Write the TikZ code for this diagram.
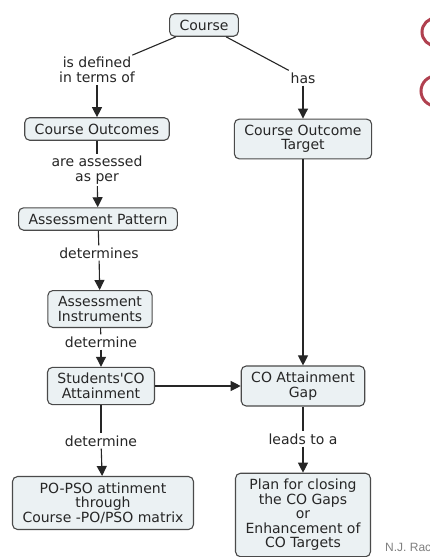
\documentclass[tikz,border=0pt]{standalone}
\usepackage{fontspec}
\setmainfont{DejaVu Sans}
\newfontfamily\creditfont{Liberation Sans}
\usetikzlibrary{arrows.meta}
\definecolor{boxfill}{HTML}{EBF1F3}
\definecolor{boxline}{HTML}{4A4A4A}
\definecolor{inkgrey}{HTML}{262626}
\definecolor{ringred}{HTML}{B0404F}

\begin{document}
\begin{tikzpicture}[x=1pt,y=-1pt,
  concept/.style={draw=boxline,fill=boxfill,rounded corners=5pt,line width=1.1pt,
    inner xsep=10pt,inner ysep=6pt,align=center,text=inkgrey,
    font=\fontsize{14}{14.5}\selectfont},
  linking/.style={inner sep=2pt,align=center,text=inkgrey,
    font=\fontsize{14}{14.5}\selectfont},
  link/.style={line width=1.1pt,draw=black!85},
  arr/.style={link,-{Triangle[width=10pt,length=10pt]}}]
\fill[white] (0,0) rectangle (430,557);
\useasboundingbox (0,0) rectangle (430,557);
%
\node[concept] (course) at (204,25) {Course};
\node[linking] (isdef) at (97,70) {is defined\\in terms of};
\node[linking] (has) at (303,78) {has};
\node[concept] (co) at (97,129) {Course Outcomes};
\node[concept] (cot) at (303,139) {Course Outcome\\Target};
\node[linking] (assessed) at (97,170) {are assessed\\as per};
\node[concept] (ap) at (98,219) {Assessment Pattern};
\node[linking] (dets) at (99,253) {determines};
\node[concept] (ai) at (100,309) {Assessment\\Instruments};
\node[linking] (det1) at (101,342) {determine};
\node[concept] (sca) at (101,386) {Students\textquotesingle CO\\Attainment};
\node[concept] (gap) at (303,386) {CO Attainment\\Gap};
\node[linking] (det2) at (101,441) {determine};
\node[linking] (leads) at (303,439) {leads to a};
\node[concept] (popso) at (103,503) {PO-PSO attinment\\through\\Course -PO/PSO matrix};
\node[concept] (plan) at (303,515) {Plan for closing\\the CO Gaps\\or\\Enhancement of\\CO Targets};
%
\draw[link] (course) -- (isdef);
\draw[arr] (isdef) -- (co);
\draw[link] (course) -- (has);
\draw[arr] (has) -- (cot);
\draw[link] (co) -- (assessed);
\draw[arr] (assessed) -- (ap);
\draw[link] (ap) -- (dets);
\draw[arr] (dets) -- (ai);
\draw[link] (ai) -- (det1);
\draw[arr] (det1) -- (sca);
\draw[arr] (cot) -- (gap);
\draw[arr] (sca) -- (gap);
\draw[link] (sca) -- (det2);
\draw[arr] (det2) -- (popso);
\draw[link] (gap) -- (leads);
\draw[arr] (leads) -- (plan);
%
\draw[ringred,line width=3pt] (436,32) circle (14);
\draw[ringred,line width=3pt] (436,91) circle (15);
\node[anchor=west,inner sep=0pt,text=black!50,font=\creditfont\fontsize{12}{12}\selectfont] (credit) at (385,547) {N.J. Rac};
\end{tikzpicture}
\end{document}
